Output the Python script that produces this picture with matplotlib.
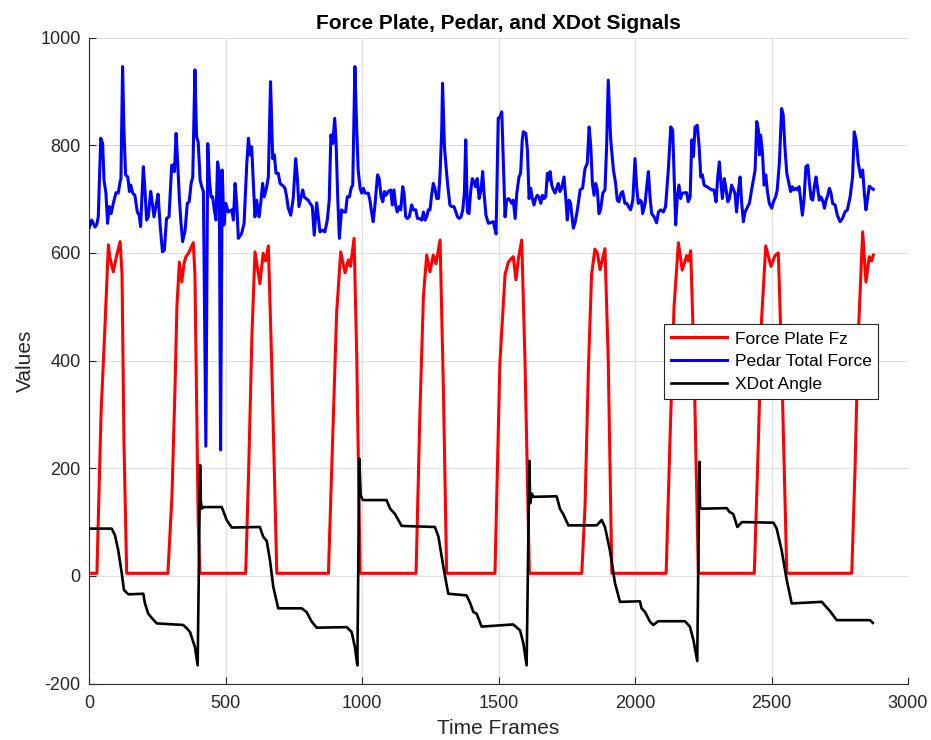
import matplotlib
matplotlib.use("Agg")
import matplotlib.pyplot as plt

plt.rcParams['font.family'] = ['Liberation Sans', 'DejaVu Sans']
plt.rcParams['axes.unicode_minus'] = False

# Force plate vertical force (frame, value)
force_plate = [
    (0, 5), (29, 5), (44, 300), (59, 470), (71, 615), (77, 590), (89, 565), (99, 590),
    (114, 621), (121, 560), (128, 250), (138, 5),
    (289, 5), (304, 150), (315, 350), (322, 500), (331, 583), (340, 546), (348, 580),
    (355, 593), (364, 599), (382, 619), (388, 560), (400, 100), (406, 5),
    (574, 5), (585, 200), (597, 450), (608, 602), (626, 543), (638, 599), (647, 585),
    (657, 613), (669, 400), (688, 5),
    (877, 5), (907, 488), (922, 602), (938, 563), (950, 587), (958, 575), (971, 627),
    (981, 400), (993, 5),
    (1198, 5), (1212, 300), (1225, 520), (1237, 596), (1249, 565), (1261, 596),
    (1271, 580), (1286, 624), (1298, 350), (1310, 5),
    (1487, 5), (1505, 395), (1524, 560), (1536, 583), (1548, 590), (1554, 593),
    (1564, 550), (1573, 590), (1585, 624), (1597, 400), (1613, 5),
    (1805, 5), (1817, 130), (1829, 380), (1841, 560), (1853, 607), (1862, 600),
    (1872, 569), (1890, 608), (1902, 400), (1915, 5),
    (2114, 5), (2128, 250), (2143, 500), (2159, 619), (2173, 568), (2189, 595),
    (2195, 585), (2204, 604), (2216, 400), (2232, 5),
    (2437, 5), (2452, 250), (2464, 480), (2479, 613), (2498, 575), (2513, 595),
    (2525, 600), (2537, 400), (2556, 5),
    (2794, 5), (2806, 200), (2818, 450), (2834, 639), (2846, 546), (2858, 593),
    (2867, 585), (2873, 596),
]

# Pedar insole total force (frame, value)
pedar = [
    (1, 647), (10, 661), (22, 648), (28, 652), (34, 667), (43, 813), (50, 803), (55, 735),
    (62, 711), (68, 655), (74, 686), (81, 673), (89, 692), (99, 712), (107, 711),
    (114, 732), (117, 738), (123, 946), (128, 828), (134, 745), (142, 741), (148, 714),
    (153, 726), (160, 711), (168, 707), (177, 676), (184, 670), (189, 649), (199, 760),
    (205, 717), (211, 661), (217, 667), (226, 714), (232, 692), (238, 667), (245, 686),
    (253, 709), (260, 655), (269, 602), (276, 605), (284, 664), (293, 667), (303, 763),
    (309, 763), (313, 751), (319, 822), (325, 766), (331, 701), (337, 655), (343, 621),
    (352, 642), (360, 692), (367, 695), (374, 729), (380, 741), (388, 940), (394, 816),
    (400, 806), (407, 735), (413, 723), (419, 714), (428, 241), (435, 803), (441, 735),
    (447, 704), (453, 704), (459, 680), (465, 661), (471, 769), (477, 748), (482, 234),
    (488, 754), (494, 652), (501, 692), (510, 676), (523, 680), (529, 661), (535, 729),
    (541, 692), (547, 627), (559, 636), (568, 655), (578, 766), (584, 813), (590, 782),
    (596, 797), (602, 729), (608, 667), (614, 698), (623, 667), (629, 692), (636, 729),
    (642, 704), (651, 723), (657, 741), (665, 918), (673, 775), (679, 782), (685, 748),
    (693, 748), (700, 729), (712, 724), (718, 720), (724, 704), (730, 683), (739, 670),
    (748, 701), (757, 775), (763, 741), (769, 686), (777, 704), (783, 717), (788, 704),
    (795, 701), (803, 698), (810, 692), (818, 686), (825, 633), (834, 693), (840, 667),
    (846, 639), (856, 642), (864, 639), (873, 661), (880, 698), (886, 819), (893, 803),
    (900, 850), (905, 806), (911, 704), (917, 627), (925, 680), (934, 676), (940, 676),
    (946, 704), (954, 704), (960, 720), (966, 726), (974, 946), (980, 840), (986, 754),
    (993, 720), (999, 711), (1005, 720), (1011, 711), (1023, 711), (1029, 698),
    (1035, 676), (1041, 658), (1048, 692), (1057, 745), (1063, 738), (1070, 704),
    (1076, 695), (1082, 714), (1088, 707), (1096, 714), (1105, 717), (1111, 689),
    (1117, 717), (1123, 689), (1129, 676), (1137, 686), (1142, 680), (1149, 723),
    (1154, 711), (1160, 667), (1166, 664), (1173, 667), (1182, 689), (1188, 680),
    (1197, 680), (1203, 664), (1210, 664), (1219, 661), (1225, 676), (1231, 661),
    (1237, 667), (1243, 680), (1249, 680), (1255, 707), (1261, 729), (1267, 720),
    (1274, 701), (1280, 701), (1286, 748), (1292, 828), (1295, 915), (1302, 797),
    (1308, 760), (1314, 726), (1322, 689), (1328, 686), (1337, 686), (1344, 676),
    (1350, 667), (1356, 664), (1363, 667), (1369, 680), (1375, 711), (1380, 810),
    (1386, 676), (1392, 673), (1398, 714), (1404, 738), (1410, 732), (1416, 723),
    (1422, 738), (1429, 701), (1436, 717), (1442, 751), (1447, 711), (1454, 670),
    (1463, 655), (1481, 658), (1491, 635), (1499, 850), (1506, 853), (1512, 862),
    (1518, 766), (1524, 667), (1530, 698), (1536, 701), (1542, 698), (1548, 692),
    (1554, 698), (1561, 664), (1567, 711), (1575, 741), (1581, 748), (1587, 810),
    (1591, 825), (1600, 822), (1606, 791), (1612, 701), (1618, 720), (1624, 701),
    (1630, 689), (1636, 701), (1642, 707), (1648, 704), (1655, 692), (1661, 707),
    (1667, 701), (1673, 704), (1679, 748), (1683, 735), (1689, 751), (1695, 726),
    (1701, 717), (1707, 711), (1713, 720), (1719, 729), (1725, 714), (1731, 720),
    (1740, 741), (1746, 704), (1752, 661), (1758, 698), (1764, 692), (1774, 646),
    (1780, 655), (1789, 680), (1799, 717), (1808, 720), (1817, 757), (1825, 766),
    (1832, 834), (1838, 797), (1844, 729), (1850, 707), (1856, 729), (1862, 717),
    (1868, 673), (1874, 680), (1882, 711), (1890, 717), (1896, 797), (1902, 921),
    (1911, 810), (1921, 754), (1929, 729), (1935, 698), (1941, 695), (1949, 711),
    (1955, 714), (1963, 692), (1970, 692), (1976, 686), (1984, 680), (1992, 698),
    (2000, 775), (2006, 723), (2012, 692), (2018, 698), (2024, 695), (2028, 673),
    (2037, 692), (2043, 723), (2049, 751), (2055, 704), (2061, 673), (2070, 667),
    (2079, 656), (2086, 676), (2094, 680), (2104, 676), (2112, 686), (2122, 754),
    (2131, 834), (2138, 828), (2143, 748), (2149, 652), (2155, 704), (2161, 726),
    (2167, 701), (2173, 711), (2189, 712), (2195, 695), (2202, 704), (2208, 810),
    (2214, 779), (2220, 834), (2228, 837), (2235, 797), (2241, 741), (2247, 745),
    (2253, 726), (2263, 723), (2281, 717), (2289, 717), (2297, 695), (2303, 741),
    (2309, 769), (2314, 735), (2320, 701), (2327, 738), (2333, 720), (2340, 695),
    (2346, 701), (2354, 726), (2366, 711), (2372, 676), (2379, 717), (2385, 741),
    (2391, 692), (2397, 658), (2403, 676), (2419, 692), (2427, 717), (2440, 754),
    (2446, 844), (2452, 828), (2456, 782), (2460, 819), (2467, 785), (2473, 726),
    (2479, 745), (2485, 714), (2492, 692), (2501, 683), (2507, 695), (2515, 704),
    (2521, 717), (2529, 769), (2537, 868), (2543, 856), (2549, 797), (2556, 748),
    (2564, 729), (2570, 714), (2576, 723), (2582, 717), (2589, 720), (2595, 717),
    (2601, 723), (2607, 698), (2613, 670), (2619, 698), (2626, 760), (2633, 763),
    (2639, 729), (2645, 701), (2651, 698), (2657, 723), (2663, 741), (2669, 720),
    (2675, 698), (2681, 704), (2687, 698), (2694, 683), (2700, 698), (2706, 707),
    (2712, 720), (2718, 711), (2724, 692), (2733, 689), (2741, 670), (2751, 658),
    (2760, 664), (2769, 676), (2778, 680), (2788, 704), (2797, 741), (2803, 825),
    (2810, 810), (2818, 766), (2827, 741), (2834, 754), (2840, 711), (2846, 680),
    (2852, 701), (2858, 724), (2867, 720), (2873, 718),
]

# XDot angle (frame, value)
xdot = [
    (0, 88), (83, 88), (95, 76), (107, 48), (120, 5), (128, -26), (144, -34), (199, -33),
    (205, -51), (217, -70), (230, -78), (248, -88), (345, -91), (358, -97), (370, -104),
    (388, -132), (398, -166), (407, 206), (409, 141), (413, 125), (419, 128), (486, 128),
    (494, 118), (504, 104), (523, 90), (626, 91), (638, 73), (651, 65), (663, 29),
    (675, -20), (693, -60), (779, -60), (797, -67), (816, -85), (834, -96), (944, -95),
    (962, -104), (974, -132), (983, -166), (990, 218), (995, 150), (1003, 141),
    (1090, 141), (1103, 125), (1121, 115), (1145, 93), (1267, 91), (1280, 73),
    (1298, 17), (1316, -33), (1383, -36), (1396, -50), (1408, -67), (1420, -70),
    (1438, -94), (1554, -90), (1579, -101), (1591, -125), (1603, -166), (1613, 214),
    (1616, 135), (1622, 153), (1628, 147), (1713, 148), (1725, 125), (1737, 115),
    (1756, 94), (1860, 94), (1878, 104), (1890, 91), (1908, 48), (1927, -14),
    (1945, -48), (2018, -47), (2024, -60), (2037, -67), (2055, -85), (2067, -91),
    (2085, -84), (2183, -84), (2201, -94), (2214, -119), (2228, -158), (2236, 212),
    (2238, 128), (2244, 125), (2336, 126), (2346, 119), (2360, 115), (2375, 91),
    (2391, 100), (2409, 100), (2507, 99), (2519, 88), (2537, 48), (2556, -8),
    (2574, -51), (2684, -48), (2696, -55), (2714, -65), (2739, -82), (2861, -82),
    (2871, -87),
]

x_ticks = [0, 500, 1000, 1500, 2000, 2500, 3000]
y_ticks = [-200, 0, 200, 400, 600, 800, 1000]

fig = plt.figure(figsize=(9.31, 7.40), dpi=100)
ax = fig.add_axes([0.0956, 0.0761, 0.8797, 0.8732])

ink = '#262626'
fx, fy = zip(*force_plate)
px_, py_ = zip(*pedar)
xx, xy = zip(*xdot)
ax.plot(fx, fy, color='#ff0000', linewidth=2.2, label='Force Plate Fz', zorder=3)
ax.plot(px_, py_, color='#0000ff', linewidth=2.2, label='Pedar Total Force', zorder=3)
ax.plot(xx, xy, color='#000000', linewidth=1.9, label='XDot Angle', zorder=4)

ax.set_xlim(0, 3000)
ax.set_ylim(-200, 1000)
ax.set_xticks(x_ticks)
ax.set_yticks(y_ticks)
ax.grid(True, color='#dedede', linewidth=0.8)
ax.set_axisbelow(True)
for side in ['top', 'right']:
    ax.spines[side].set_visible(False)
for side in ['left', 'bottom']:
    ax.spines[side].set_color(ink)
    ax.spines[side].set_linewidth(0.8)
ax.tick_params(direction='in', length=5, width=0.8, colors=ink, labelsize=13, pad=6)
ax.xaxis.set_tick_params(pad=8)

ax.set_title('Force Plate, Pedar, and XDot Signals', fontsize=15, fontweight='bold',
             color='#000000', pad=6)
ax.set_xlabel('Time Frames', fontsize=15, color=ink, labelpad=5)
ax.set_ylabel('Values', fontsize=15, color=ink, labelpad=4)

leg = ax.legend(loc='upper left', bbox_to_anchor=(0.7024, 0.556), fontsize=12.5,
                frameon=True, fancybox=False, framealpha=1, edgecolor=ink,
                handlelength=3.2, handletextpad=0.45, labelspacing=0.45,
                borderpad=0.4, borderaxespad=0)
leg.get_frame().set_linewidth(0.8)

fig.savefig('out.png', dpi=100)
